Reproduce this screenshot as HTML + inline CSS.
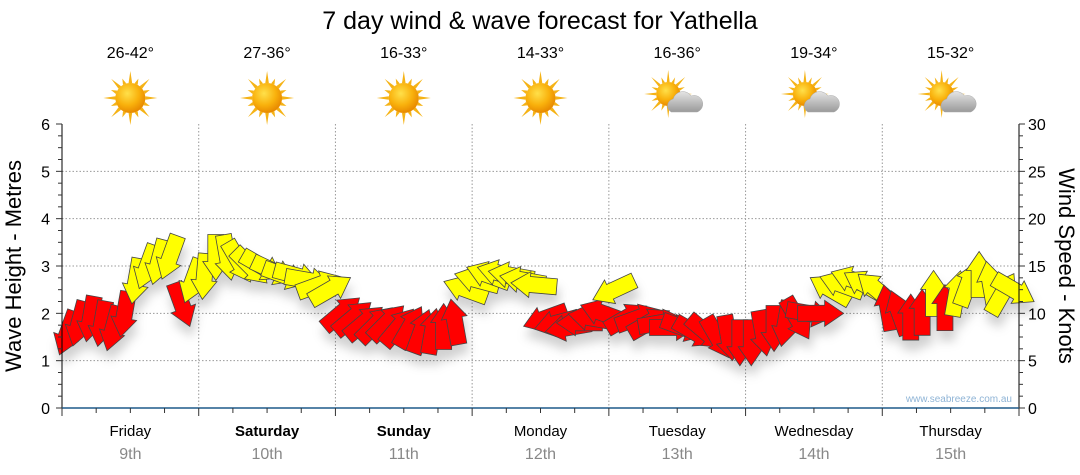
<!DOCTYPE html>
<html><head><meta charset="utf-8"><style>
body{margin:0;background:#fff;}
svg{display:block;font-family:"Liberation Sans",sans-serif;}
</style></head><body>
<svg id="chart" width="1080" height="475" viewBox="0 0 1080 475">
<defs>
<filter id="sh" x="-50%" y="-50%" width="200%" height="200%"><feDropShadow dx="2" dy="10" stdDeviation="5" flood-color="#000" flood-opacity="0.18"/></filter>
<radialGradient id="sun" cx="40%" cy="35%" r="65%"><stop offset="0" stop-color="#ffe04a"/><stop offset="0.6" stop-color="#f9b10c"/><stop offset="1" stop-color="#e88a00"/></radialGradient>
<linearGradient id="cloud" x1="0" y1="0" x2="0" y2="1"><stop offset="0" stop-color="#e4e4e4"/><stop offset="1" stop-color="#9a9a9a"/></linearGradient>
</defs>
<text x="540" y="29" text-anchor="middle" font-size="25" fill="#000">7 day wind &amp; wave forecast for Yathella</text>
<g id="grid"></g>
<g id="arrows" filter="url(#sh)"></g>
<g id="axes"></g>
<text x="1012" y="402" text-anchor="end" font-size="10" fill="#8fb4d6">www.seabreeze.com.au</text>
<text transform="translate(21,266) rotate(-90)" text-anchor="middle" font-size="22" fill="#000">Wave Height - Metres</text>
<text transform="translate(1059,266) rotate(90)" text-anchor="middle" font-size="22" fill="#000">Wind Speed - Knots</text>
</svg>
<script>
const days = ["Friday","Saturday","Sunday","Monday","Tuesday","Wednesday","Thursday"];
const dates = ["9th","10th","11th","12th","13th","14th","15th"];
const boldDays = [false,true,true,false,false,false,false];
const temps = ["26-42°","27-36°","16-33°","14-33°","16-36°","19-34°","15-32°"];
const cloudy = [false,false,false,false,true,true,true];
const waveTicks = [0,1,2,3,4,5,6];
const windTicks = [0,5,10,15,20,25,30];
const windSpeed = [
 8,9,9.5,9,8.5,10,13.5,15,15.5,16,11,13.5,
 14,16,16,15.5,15,15,14.5,14,14,13.5,13,12.5,
 10,9.5,9,8.8,9,8.5,8.5,8,8,8.5,9,12.5,
 13.5,14,14.2,14,13.5,13,9.5,9,8.5,9,9.5,10,
 12.5,9.5,9.5,9,9,8.5,8.5,8,8,7.5,7.5,7,
 7,8,8.5,9,9.5,10,10,12.5,13,13.5,13,12.5,
 10.5,10,9.5,10,12,10.5,12,13,14,13,12,12.5];
const windDir = [
 110,105,100,100,105,100,100,110,105,110,70,110,
 95,90,80,60,45,30,25,20,15,10,-20,-30,
 -40,-40,-40,-45,-45,-50,-60,-70,-80,-90,-100,200,
 195,200,195,190,190,185,160,165,170,180,190,200,
 155,-30,-20,-30,-10,0,20,30,40,60,80,90,
 90,80,90,100,60,10,0,210,200,200,210,220,
 -100,-110,-90,-90,-90,-90,-80,-70,-90,-100,-60,30];
const NS="http://www.w3.org/2000/svg";
const X0=62,X1=1019,Y0=408,Y1=124;
const dayW=(X1-X0)/7;
const yWave=v=>Y0-(v/6)*(Y0-Y1);
const yWind=v=>Y0-(v/30)*(Y0-Y1);
const xIdx=i=>X0+(i+0.5)*(X1-X0)/windSpeed.length;
function mk(tag,attrs,parent){const e=document.createElementNS(NS,tag);for(const k in attrs)e.setAttribute(k,attrs[k]);parent.appendChild(e);return e;}
const grid=document.getElementById('grid'),axes=document.getElementById('axes'),arrows=document.getElementById('arrows'),svg=document.getElementById('chart');
waveTicks.forEach(v=>{if(v>0&&v<6){const l=mk('line',{x1:X0,x2:X1,y1:yWave(v),y2:yWave(v),stroke:'#999','stroke-dasharray':'1.5,2','stroke-width':1},grid);

}});
for(let d=1;d<7;d++){const x=X0+d*dayW;const l=mk('line',{x1:x,x2:x,y1:Y1,y2:Y0,stroke:'#999','stroke-dasharray':'1.5,2','stroke-width':1},grid);

}
mk('line',{x1:X0,x2:X0,y1:Y1,y2:Y0,stroke:'#000','stroke-width':1},axes);
mk('line',{x1:X1,x2:X1,y1:Y1,y2:Y0,stroke:'#000','stroke-width':1},axes);
mk('line',{x1:X0,x2:X1,y1:Y0,y2:Y0,stroke:'#1f5a8a','stroke-width':1.5},axes);
for(let v=0;v<=6.001;v+=0.25){const y=yWave(v);const major=Math.abs(v-Math.round(v))<0.01;mk('line',{x1:X0-(major?6:4),x2:X0,y1:y,y2:y,stroke:'#333'},axes);}
for(let v=0;v<=30.001;v+=1.25){const y=yWind(v);const major=Math.abs(v/5-Math.round(v/5))<0.01;mk('line',{x1:X1,x2:X1+(major?6:4),y1:y,y2:y,stroke:'#333'},axes);}
waveTicks.forEach(v=>{const t=mk('text',{x:50,y:yWave(v)+6,'text-anchor':'end','font-size':16,fill:'#000'},axes);t.textContent=v;

});
windTicks.forEach(v=>{const t=mk('text',{x:1028,y:yWind(v)+6,'font-size':16,fill:'#000'},axes);t.textContent=v;

});
for(let q=0;q<=28;q++){const x=X0+q*dayW/4;mk('line',{x1:x,x2:x,y1:Y0,y2:Y0+(q%4==0?8:5),stroke:'#333'},axes);}
days.forEach((d,i)=>{const cx=X0+(i+0.5)*dayW;
const t=mk('text',{x:cx,y:436,'text-anchor':'middle','font-size':15,fill:'#000','font-weight':boldDays[i]?'bold':'normal'},axes);t.textContent=d;


const t2=mk('text',{x:cx,y:459,'text-anchor':'middle','font-size':16,fill:'#888'},axes);t2.textContent=dates[i];


const t3=mk('text',{x:cx,y:58,'text-anchor':'middle','font-size':16,fill:'#000'},svg);t3.textContent=temps[i];


const g=mk('g',{transform:`translate(${cx},98)`},svg);


const sx=cloudy[i]?-9:0,sy=cloudy[i]?-4:0,r=cloudy[i]?12:15;
for(let k=0;k<16;k++){const a=k*Math.PI/8,L=(k%2?r+6:r+12);
mk('polygon',{points:`${sx+Math.cos(a-0.12)*r},${sy+Math.sin(a-0.12)*r} ${sx+Math.cos(a)*L},${sy+Math.sin(a)*L} ${sx+Math.cos(a+0.12)*r},${sy+Math.sin(a+0.12)*r}`,fill:'#f5b316'},g);}
mk('circle',{cx:sx,cy:sy,r:r,fill:'url(#sun)'},g);
if(cloudy[i]){mk('path',{d:'M-6,14 a7,7 0 0 1 2,-13 a10,10 0 0 1 18,-3 a8,8 0 0 1 6,16 z',fill:'url(#cloud)',stroke:'#aaa','stroke-width':0.5},g);}
});
windSpeed.forEach((s,i)=>{const x=xIdx(i),y=yWind(s);
const p=mk('polygon',{points:'-22,-8 5,-8 5,-13 24,0 5,13 5,8 -22,8',transform:`translate(${x},${y}) rotate(${windDir[i]})`,fill:s>=11.5?'#ffff00':'#ff0000',stroke:'#444','stroke-width':0.8},arrows);

});
</script>
</body></html>
